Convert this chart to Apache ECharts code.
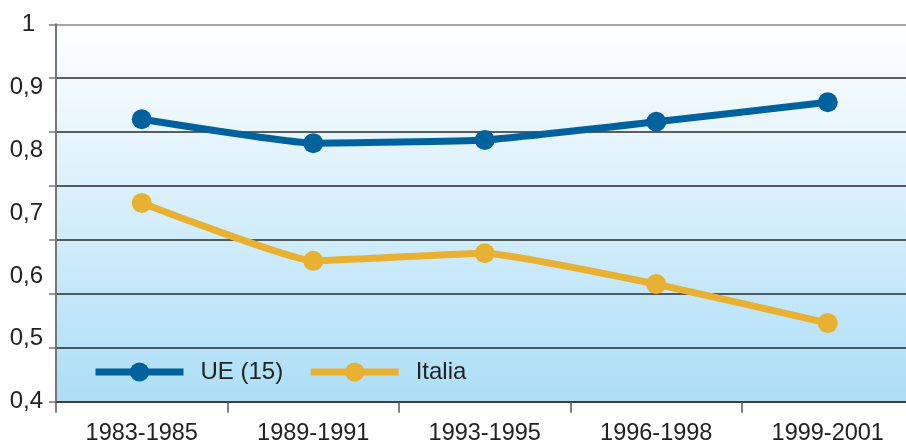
<!DOCTYPE html>
<html><head><meta charset="utf-8">
<script src="https://cdn.jsdelivr.net/npm/echarts@6/dist/echarts.min.js"></script>
<style>html,body{margin:0;padding:0;background:#fff}#c{width:906px;height:445px}</style>
</head><body><div id="c"></div>
<script>
const categories = ['1983-1985','1989-1991','1993-1995','1996-1998','1999-2001'];
const ueValues = [0.849, 0.811, 0.816, 0.845, 0.876];
const italiaValues = [0.716, 0.624, 0.636, 0.587, 0.525];
const yTickLabels = [0.4, 0.5, 0.6, 0.7, 0.8, 0.9, 1];
const seriesNames = ['UE (15)', 'Italia'];

const chart = echarts.init(document.getElementById('c'), null, {renderer: 'canvas'});
const font = 'Liberation Sans, Arial, sans-serif';
const gridColors = ['#333','#2a2a2a','#2a2a2a','#2a2a2a','#2a2a2a','#2a2a2a','#2a2a2a','#888'];
chart.setOption({
  animation: false,
  grid: {left: 56, top: 24.3, bottom: 43.3, width: 857.5, show: true, borderWidth: 0,
    outerBoundsMode: 'none', containLabel: false,
    backgroundColor: new echarts.graphic.LinearGradient(0,0,0,1,[{offset:0,color:'#ffffff'},{offset:1,color:'#acdef6'}])},
  legend: {left: 92, top: 360, padding: 0, itemWidth: 88, itemHeight: 24, itemGap: 24,
    data: seriesNames,
    lineStyle: {width: 7},
    textStyle: {fontFamily: font, fontSize: 24, color: '#222', padding: [0,0,0,12]}},
  xAxis: {type: 'category', data: categories, boundaryGap: true,
    axisLine: {lineStyle: {color: '#333', width: 1.5}},
    axisTick: {show: true, length: 11, lineStyle: {color: '#555', width: 1.5}},
    axisLabel: {fontFamily: font, fontSize: 23.5, color: '#222', margin: 20}},
  yAxis: [
    {type: 'value', min: 0.4, max: 1, interval: 0.1, position: 'left',
      axisLine: {show: false}, axisTick: {show: false}, splitLine: {show: false},
      axisLabel: {fontFamily: font, fontSize: 24, color: '#222', margin: 13,
        formatter: v => { const s = (Math.round(v*10)/10).toString().replace('.', ','); return s === '1' ? '{a|1}' : s; },
        rich: {a: {fontFamily: font, fontSize: 24, color: '#222', padding: [0, 8, 0, 0]}}}},
    {type: 'value', min: 0, max: 7, interval: 1, position: 'left',
      axisLine: {show: true, lineStyle: {color: '#777', width: 2}},
      axisTick: {show: true, length: 7, lineStyle: {color: '#777', width: 1.5}},
      axisLabel: {show: false},
      splitLine: {show: true, lineStyle: {color: gridColors, width: 1.5}}}
  ],
  series: [
    {name: seriesNames[0], type: 'line', data: ueValues, yAxisIndex: 0, smooth: 0.12,
      symbol: 'circle', symbolSize: 20, color: '#00629d',
      lineStyle: {width: 7, color: '#00629d'}, itemStyle: {color: '#00629d'}},
    {name: seriesNames[1], type: 'line', data: italiaValues, yAxisIndex: 0, smooth: 0.12,
      symbol: 'circle', symbolSize: 20, color: '#e8b131',
      lineStyle: {width: 7, color: '#e8b131'}, itemStyle: {color: '#e8b131'}}
  ]
});
</script></body></html>
